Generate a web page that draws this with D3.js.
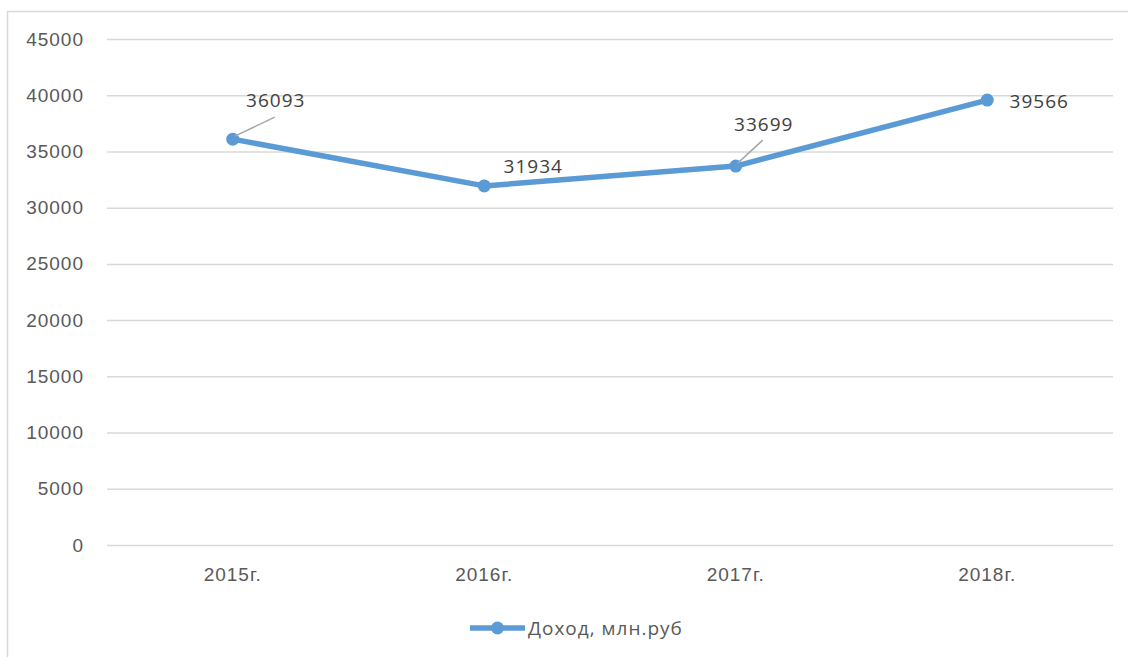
<!DOCTYPE html>
<html>
<head>
<meta charset="utf-8">
<script src="https://cdn.jsdelivr.net/npm/d3@7"></script>
<style>
  body { margin: 0; background: #fff; }
  svg { font-family: "Open Sans", "Noto Sans", sans-serif; }
  text { letter-spacing: 1px; }
</style>
</head>
<body>
<script>
const years = ["2015г.", "2016г.", "2017г.", "2018г."];
const income = [36093, 31934, 33699, 39566];
const yTicks = [0, 5000, 10000, 15000, 20000, 25000, 30000, 35000, 40000, 45000];
const seriesName = "Доход, млн.руб";

const width = 1128, height = 657;
const plotLeft = 107, plotRight = 1113, plotTop = 39, plotBottom = 545;
const blue = "#5b9bd5";
const fontSize = "19px";

const svg = d3.select("body").append("svg")
  .attr("width", width)
  .attr("height", height);

// frame
svg.append("rect")
  .attr("x", 7.5).attr("y", 11.5)
  .attr("width", width).attr("height", height)
  .style("fill", "none")
  .style("stroke", "#d9d9d9")
  .style("stroke-width", 1.5);

const x = d3.scaleBand().domain(years).range([plotLeft, plotRight]);
const y = d3.scaleLinear().domain([0, 45000]).range([plotBottom, plotTop]);

const yAxis = svg.append("g")
  .attr("transform", `translate(${plotLeft},0)`)
  .call(d3.axisLeft(y).tickValues(yTicks).tickSize(-(plotRight - plotLeft)).tickPadding(23).tickFormat(d3.format("d")));
yAxis.select(".domain").remove();
yAxis.selectAll(".tick line").style("stroke", "#d9d9d9").style("stroke-width", 1.5);
yAxis.selectAll(".tick text").style("fill", "#595959").style("font-size", fontSize);

const xAxis = svg.append("g")
  .attr("transform", `translate(0,${plotBottom})`)
  .call(d3.axisBottom(x).tickSize(0).tickPadding(23));
xAxis.select(".domain").remove();
xAxis.selectAll(".tick text").style("fill", "#595959").style("font-size", fontSize);

const cx = (d) => x(d) + x.bandwidth() / 2;

const line = d3.line()
  .x((d, i) => cx(years[i]))
  .y((d) => y(d));

svg.append("path")
  .datum(income)
  .attr("d", line)
  .style("fill", "none")
  .style("stroke", blue)
  .style("stroke-width", 5.5)
  .style("stroke-linejoin", "round");

svg.selectAll(".pt")
  .data(income)
  .join("circle")
  .attr("class", "pt")
  .attr("cx", (d, i) => cx(years[i]))
  .attr("cy", (d) => y(d))
  .attr("r", 6.5)
  .style("fill", blue);

// data labels, offsets relative to the point
const labelOffsets = [
  { dx: 43, dy: -32, leader: [42, 22] },
  { dx: 49, dy: -13, leader: null },
  { dx: 28, dy: -35, leader: [27, 26] },
  { dx: 52, dy: 8, leader: null }
];

income.forEach((v, i) => {
  const px = cx(years[i]), py = y(v);
  const o = labelOffsets[i];
  if (o.leader) {
    svg.append("line")
      .attr("x1", px + 2).attr("y1", py - 3)
      .attr("x2", px + o.leader[0]).attr("y2", py - o.leader[1])
      .style("stroke", "#a6a6a6")
      .style("stroke-width", 1.5);
  }
  svg.append("text")
    .attr("x", px + o.dx)
    .attr("y", py + o.dy)
    .attr("text-anchor", "middle")
    .style("fill", "#404040")
    .style("font-size", fontSize)
    .text(d3.format("d")(v));
});

// legend
const lg = svg.append("g").attr("transform", "translate(470,628)");
lg.append("line")
  .attr("x1", 0).attr("x2", 55).attr("y1", 0).attr("y2", 0)
  .style("stroke", blue).style("stroke-width", 5.5);
lg.append("circle").attr("cx", 27.5).attr("cy", 0).attr("r", 6.5).style("fill", blue);
lg.append("text")
  .attr("x", 58).attr("y", 7)
  .style("fill", "#595959")
  .style("font-size", fontSize)
  .text(seriesName);
</script>
</body>
</html>
